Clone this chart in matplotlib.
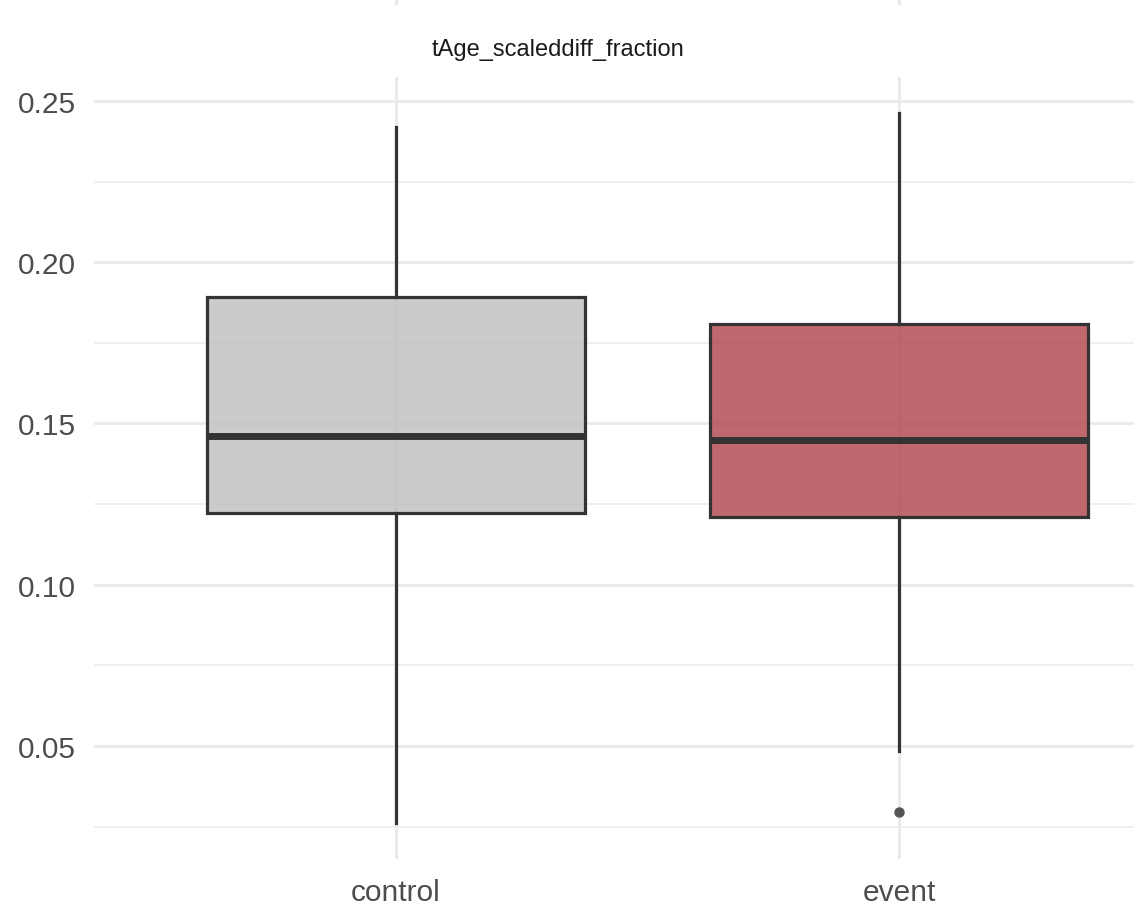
import numpy as np
import matplotlib.pyplot as plt
from matplotlib.colors import to_rgba
from matplotlib.lines import Line2D
from matplotlib.ticker import MultipleLocator

plt.rcParams['font.family'] = ['Liberation Sans', 'DejaVu Sans']

groups = ['control', 'event']
whislo = [0.0261, 0.0484]
q1 = [0.1222, 0.1210]
med = [0.1461, 0.1449]
q3 = [0.1892, 0.1809]
whishi = [0.2419, 0.2463]
fliers = [[], [0.0295]]
fills = ['#BEBEBE', '#AF434A']

fig = plt.figure(figsize=(11.34, 9.12), dpi=100)
ax = fig.add_axes([94/1134, 1 - 860/912, 1 - 94/1134, (860 - 78)/912])

stats = []
for i, g in enumerate(groups):
    stats.append(dict(label=g, whislo=whislo[i], q1=q1[i], med=med[i],
                      q3=q3[i], whishi=whishi[i], fliers=fliers[i]))

line_col = '#333333'
bp = ax.bxp(stats, positions=[1, 2], widths=0.75, patch_artist=True,
            showcaps=False,
            boxprops=dict(edgecolor=line_col, linewidth=2.3),
            whiskerprops=dict(color=line_col, linewidth=2.3),
            medianprops=dict(color=line_col, linewidth=5, solid_capstyle='butt'),
            flierprops=dict(marker='o', markerfacecolor='#555555',
                            markeredgecolor='#555555', markersize=6.5))
# translucent fill so the grid shows faintly through the boxes
for patch, c in zip(bp['boxes'], fills):
    patch.set_facecolor(to_rgba(c, 0.8))
    patch.set_edgecolor(line_col)

ax.set_xlim(0.4, 1 + (1134 - 396) / 503)
ax.set_ylim(0.0150, 0.2574)
ax.yaxis.set_minor_locator(MultipleLocator(0.025))
yt = np.arange(0.05, 0.2501, 0.05)
ax.set_yticks(yt)
ax.set_yticklabels([f'{v:.2f}' for v in yt])
ax.set_xticks([1, 2])
ax.set_xticklabels(groups)

ax.set_axisbelow(True)
ax.grid(which='major', color='#EBEBEB', linewidth=2.2)
ax.grid(which='minor', axis='y', color='#EBEBEB', linewidth=1.1)

for s in ax.spines.values():
    s.set_visible(False)
ax.tick_params(which='both', length=0)
ax.tick_params(axis='y', labelsize=21.5, labelcolor='#4D4D4D', pad=13)
ax.tick_params(axis='x', labelsize=21.5, labelcolor='#4D4D4D', pad=14)

fig.text(558/1134, 1 - 50/912, 'tAge_scaleddiff_fraction', ha='center',
         va='center', fontsize=17, color='#1A1A1A')

# stubs of the panel above
for xp in [396, 899]:
    fig.add_artist(Line2D([xp/1134, xp/1134], [1, 1 - 4/912],
                          color='#EBEBEB', linewidth=2.2))

fig.savefig('out.png', dpi=100)
